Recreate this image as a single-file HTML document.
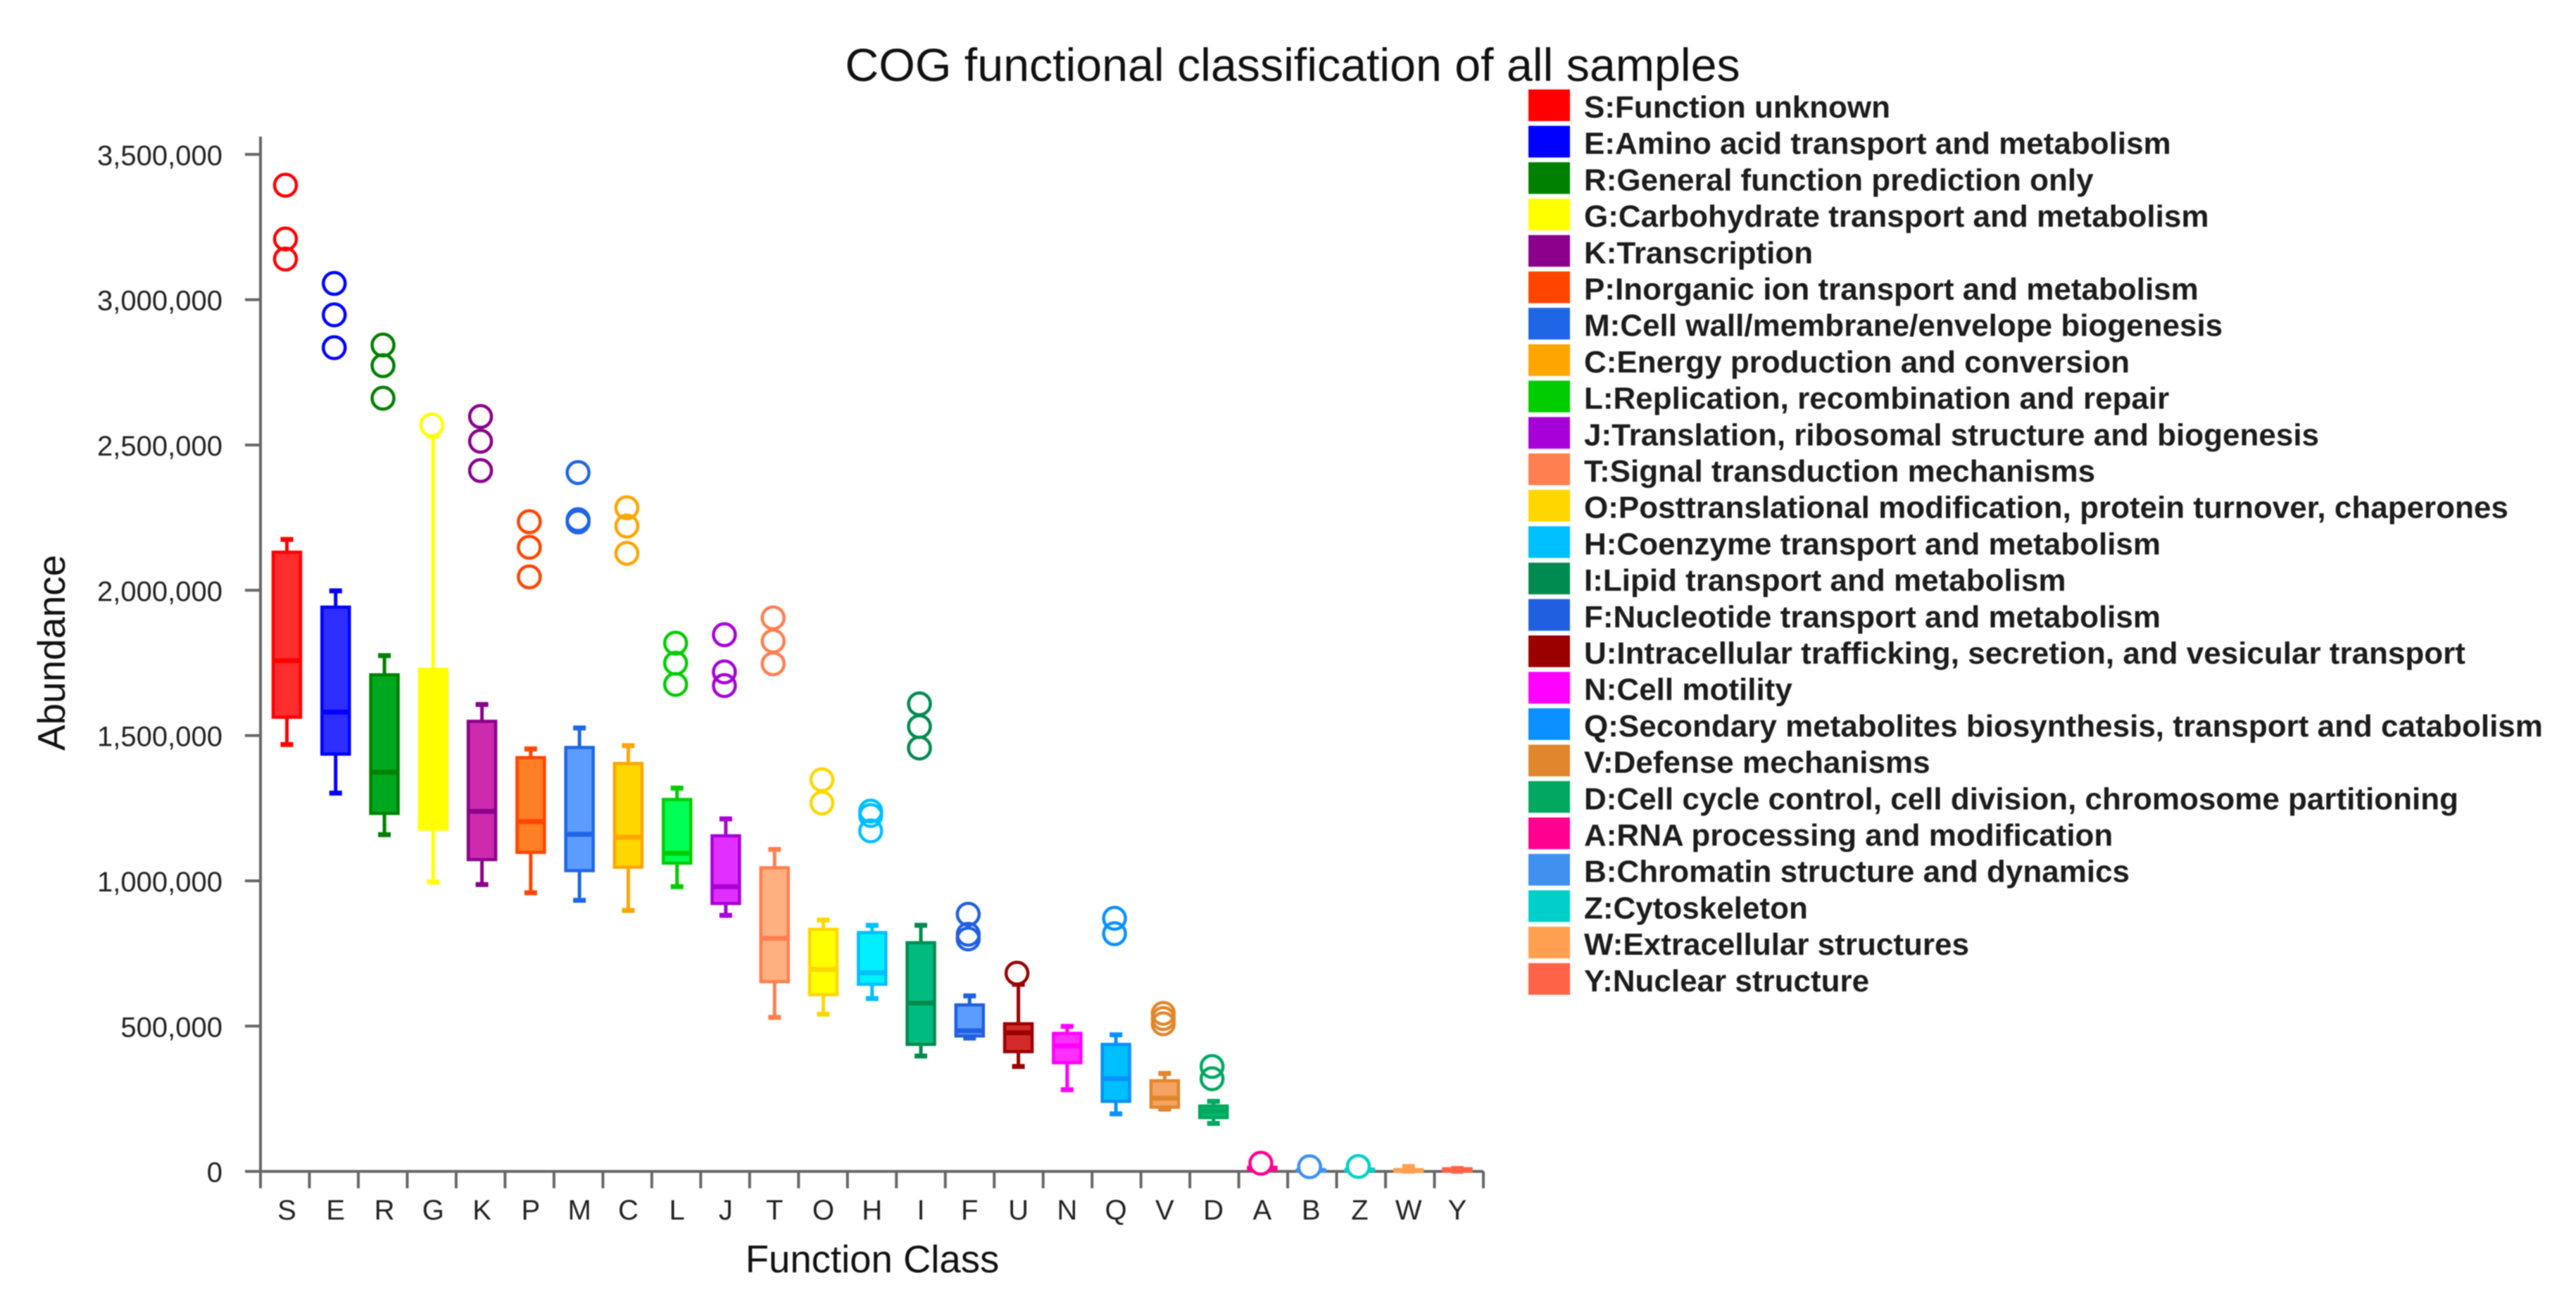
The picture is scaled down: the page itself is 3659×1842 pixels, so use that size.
<!DOCTYPE html>
<html>
<head>
<meta charset="utf-8">
<title>COG functional classification of all samples</title>
<style>
html,body{margin:0;padding:0;background:#fff;}
svg{display:block;font-family:"Liberation Sans",sans-serif;filter:blur(0.8px);}
</style>
</head>
<body>
<svg id="chart" xmlns="http://www.w3.org/2000/svg" width="3659" height="1842" viewBox="0 0 3659 1842">
<rect x="0" y="0" width="3659" height="1842" fill="#ffffff"/>
<text x="1836" y="115" font-size="66.3" text-anchor="middle" fill="#111">COG functional classification of all samples</text>
<text x="1239" y="1807" font-size="54.5" text-anchor="middle" fill="#111">Function Class</text>
<text transform="translate(92,927) rotate(-90)" font-size="55" text-anchor="middle" fill="#111">Abundance</text>
<g id="axes"></g>
<g id="marks"></g>
<g id="legend"></g>
</svg>
<script>
const categories = ["S","E","R","G","K","P","M","C","L","J","T","O","H","I","F","U","N","Q","V","D","A","B","Z","W","Y"];
const legendLabels = [
"S:Function unknown","E:Amino acid transport and metabolism","R:General function prediction only",
"G:Carbohydrate transport and metabolism","K:Transcription","P:Inorganic ion transport and metabolism",
"M:Cell wall/membrane/envelope biogenesis","C:Energy production and conversion","L:Replication, recombination and repair",
"J:Translation, ribosomal structure and biogenesis","T:Signal transduction mechanisms",
"O:Posttranslational modification, protein turnover, chaperones","H:Coenzyme transport and metabolism",
"I:Lipid transport and metabolism","F:Nucleotide transport and metabolism",
"U:Intracellular trafficking, secretion, and vesicular transport","N:Cell motility",
"Q:Secondary metabolites biosynthesis, transport and catabolism","V:Defense mechanisms",
"D:Cell cycle control, cell division, chromosome partitioning","A:RNA processing and modification",
"B:Chromatin structure and dynamics","Z:Cytoskeleton","W:Extracellular structures","Y:Nuclear structure"];
const whiskerLow = [1469000,1302000,1159000,996000,987000,959000,933000,898000,980000,881000,530000,541000,595000,397000,459000,361000,281000,198000,214000,165000,3000,1000,2000,500,500];
const quartile1 = [1563000,1436000,1232000,1178000,1073000,1098000,1035000,1047000,1061000,922000,653000,608000,644000,437000,466000,412000,374000,241000,221000,185000,6000,2000,3000,1500,1000];
const medians = [1758000,1581000,1374000,1400000,1239000,1204000,1160000,1150000,1095000,980000,802000,695000,684000,579000,484000,477000,432000,319000,252000,207000,10000,3500,5000,3000,5000];
const quartile3 = [2131000,1942000,1709000,1728000,1549000,1424000,1459000,1404000,1280000,1155000,1045000,833000,822000,787000,573000,508000,475000,437000,312000,225000,14000,5000,7000,6000,9000];
const whiskerHigh = [2175000,1998000,1775000,2531000,1607000,1454000,1526000,1465000,1319000,1213000,1108000,865000,847000,847000,604000,644000,499000,470000,337000,241000,20000,7000,9000,17000,10000];
const outliers = [
[3394000,3209000,3140000],[3056000,2948000,2835000],[2844000,2773000,2661000],[2569000],
[2598000,2513000,2412000],[2236000,2148000,2046000],[2405000,2243000,2235000],[2284000,2221000,2127000],
[1818000,1749000,1676000],[1847000,1719000,1672000],[1905000,1825000,1747000],[1348000,1268000],
[1240000,1225000,1172000],[1609000,1531000,1457000],[885000,816000,800000],[682000],[],
[871000,818000],[544000,526000,508000],[361000,319000],[28000],[16000],[17000],[],[]];
const yTickValues = [0,500000,1000000,1500000,2000000,2500000,3000000,3500000];
const yTickLabels = ["0","500,000","1,000,000","1,500,000","2,000,000","2,500,000","3,000,000","3,500,000"];
const legendColors = ["#ff0000","#0000ff","#008000","#ffff00","#8b008b","#ff4500","#1e66e6","#ffa500","#00cd00","#a800d8","#ff7f50","#ffd700","#00bfff","#008b50","#2060e0","#9b0000","#ff00ff","#0a90ff","#e0862d","#00a860","#ff0090","#4090f0","#00d0c8","#ffa050","#ff6347"];
const boxFills = ["#ff2d2d","#2d2dff","#00a820","#ffff00","#cd2bae","#ff7f24","#5d9cff","#ffd700","#00ff55","#e02eff","#ffb080","#ffff00","#00f0ff","#00bb80","#5d9cff","#d42a2a","#ff30ff","#00bfff","#f4a460","#00bb66","#ff30a0","#6aa8f8","#30e0d8","#ffb070","#ff7a60"];

const NS = "http://www.w3.org/2000/svg";
const plotLeft = 370, plotRight = 2107, yZero = 1663.6, yTop = 194;
const yScale = (3500000) / (1663.6 - 219.3);
function yPos(v){ return yZero - v / yScale; }
function xCenter(i){ return 407.5 + i * 69.27; }
function xTick(i){ return plotLeft + i * (plotRight - plotLeft) / categories.length; }
function make(parent, tag, attrs, text){
  const el = document.createElementNS(NS, tag);
  for (const k in attrs) el.setAttribute(k, attrs[k]);
  if (text !== undefined) el.textContent = text;
  parent.appendChild(el);
  return el;
}
const axes = document.getElementById("axes");
const marks = document.getElementById("marks");
const legend = document.getElementById("legend");
const axisColor = "#666666";

let el = make(axes, "line", {x1:plotLeft,x2:plotLeft,y1:yTop,y2:yZero,stroke:axisColor,"stroke-width":4});


el = make(axes, "line", {x1:plotLeft,x2:plotRight,y1:yZero,y2:yZero,stroke:axisColor,"stroke-width":4});



yTickValues.forEach(function(v, i){
  const y = yPos(v);
  const t = make(axes, "line", {x1:348,x2:plotLeft,y1:y,y2:y,stroke:axisColor,"stroke-width":4});
  
  
  const l = make(axes, "text", {x:316,y:y+15,"font-size":40,"text-anchor":"end",fill:"#222"}, yTickLabels[i]);
  
  
});
for (let i = 0; i <= categories.length; i++){
  const x = xTick(i);
  const t = make(axes, "line", {x1:x,x2:x,y1:yZero,y2:yZero+24,stroke:axisColor,"stroke-width":4});
  
  
}
categories.forEach(function(c, i){
  const l = make(axes, "text", {x:xCenter(i),y:1732,"font-size":40,"text-anchor":"middle",fill:"#222"}, c);
  
  
});

categories.forEach(function(c, i){
  const g = make(marks, "g", {});
  
  
  const x = xCenter(i), col = legendColors[i], half = 19.5, capHalf = 9;
  const w = make(g, "line", {x1:x,x2:x,y1:yPos(whiskerLow[i]),y2:yPos(whiskerHigh[i]),stroke:col,"stroke-width":5});
  
  
  [whiskerLow[i], whiskerHigh[i]].forEach(function(v){
    const cap = make(g, "line", {x1:x-capHalf,x2:x+capHalf,y1:yPos(v),y2:yPos(v),stroke:col,"stroke-width":7});
    
    
  });
  const b = make(g, "rect", {x:x-half,y:yPos(quartile3[i]),width:half*2,height:Math.max(0.5,yPos(quartile1[i])-yPos(quartile3[i])),fill:boxFills[i],stroke:col,"stroke-width":4.5});
  
  
  const m = make(g, "line", {x1:x-half,x2:x+half,y1:yPos(medians[i]),y2:yPos(medians[i]),stroke:col,"stroke-width":7});
  
  
  outliers[i].forEach(function(v){
    const d = make(g, "circle", {cx:x-2,cy:yPos(v),r:15.5,fill:"#ffffff"});
    
    
  });
  outliers[i].forEach(function(v){
    const o = make(g, "circle", {cx:x-2,cy:yPos(v),r:15.5,fill:"none",stroke:col,"stroke-width":4.5});
    
    
  });
});

legendLabels.forEach(function(label, i){
  const y = 127 + i * 51.7;
  const g = make(legend, "g", {});
  
  
  const s = make(g, "rect", {x:2171,y:y,width:59,height:45,fill:legendColors[i]});
  
  
  const t = make(g, "text", {x:2250,y:y+40,"font-size":44,"font-weight":"bold",fill:"#1c1c1c"}, label);
  
  
});
</script>
</body>
</html>
